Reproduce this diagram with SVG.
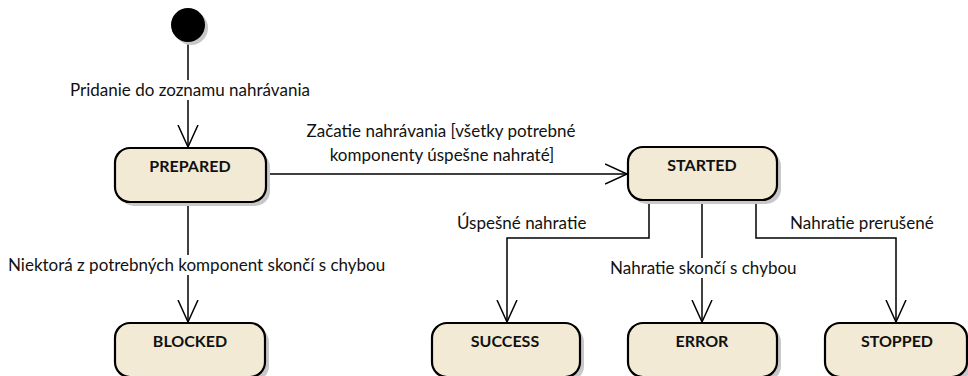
<svg xmlns="http://www.w3.org/2000/svg" width="968" height="376" viewBox="0 0 968 376">
<style>
.st rect.b{fill:#f3ead6;stroke:#000;stroke-width:2.2}
.st rect.sh{fill:#c8c8c8}
.st text{font-family:Lato,"Liberation Sans",sans-serif;font-weight:bold;font-size:16px;text-anchor:middle;fill:#111}
.lbl{font-family:Lato,"Liberation Sans",sans-serif;font-size:17px;fill:#111}
.bg{fill:#fff}
.c{fill:none;stroke:#000;stroke-width:1.5}
</style>
<defs>
<marker id="a" viewBox="0 0 24 24" refX="22" refY="12" markerWidth="24" markerHeight="24" markerUnits="userSpaceOnUse" orient="auto">
<path d="M0,2 L22,12 L0,22" fill="none" stroke="#000" stroke-width="1.5"/>
</marker>
</defs>
<rect width="968" height="376" fill="#fff"/>
<g id="connectors">
<line class="c" x1="188" y1="42" x2="188" y2="147" marker-end="url(#a)"/>
<line class="c" x1="266" y1="174" x2="627" y2="174" marker-end="url(#a)"/>
<line class="c" x1="188" y1="202" x2="188" y2="322" marker-end="url(#a)"/>
<polyline class="c" points="649,200 649,238 507,238 507,322" marker-end="url(#a)"/>
<line class="c" x1="702" y1="200" x2="702" y2="322" marker-end="url(#a)"/>
<polyline class="c" points="756,200 756,238 896,238 896,322" marker-end="url(#a)"/>
</g>
<g id="labels">
<rect class="bg" x="68" y="80" width="250" height="20"/>
<text class="lbl" x="70" y="96">Pridanie do zoznamu nahrávania</text>
<text class="lbl" x="441" y="137" text-anchor="middle">Začatie nahrávania [všetky potrebné</text>
<text class="lbl" x="442" y="161" text-anchor="middle">komponenty úspešne nahraté]</text>
<rect class="bg" x="6" y="255" width="386" height="20"/>
<text class="lbl" x="8" y="271">Niektorá z potrebných komponent skončí s chybou</text>
<text class="lbl" x="457" y="229">Úspešné nahratie</text>
<rect class="bg" x="608" y="258" width="202" height="20"/>
<text class="lbl" x="610" y="274">Nahratie skončí s chybou</text>
<text class="lbl" x="790" y="229">Nahratie prerušené</text>
</g>
<g id="initial">
<circle cx="191" cy="28" r="17" fill="#c8c8c8"/>
<circle cx="188" cy="25" r="17" fill="#000"/>
</g>
<g id="prepared" class="st">
<rect class="sh" x="119" y="152" width="151" height="54" rx="15"/>
<rect class="b" x="115" y="148" width="151" height="54" rx="15"/>
<text x="190" y="172">PREPARED</text>
</g>
<g id="started" class="st">
<rect class="sh" x="632" y="151" width="149" height="53" rx="15"/>
<rect class="b" x="628" y="147" width="149" height="53" rx="15"/>
<text x="702" y="171">STARTED</text>
</g>
<g id="blocked" class="st">
<rect class="sh" x="119" y="327" width="150" height="54" rx="15"/>
<rect class="b" x="115" y="323" width="150" height="54" rx="15"/>
<text x="190" y="347">BLOCKED</text>
</g>
<g id="success" class="st">
<rect class="sh" x="436" y="327" width="148" height="54" rx="15"/>
<rect class="b" x="432" y="323" width="148" height="54" rx="15"/>
<text x="505" y="347">SUCCESS</text>
</g>
<g id="error" class="st">
<rect class="sh" x="632" y="327" width="149" height="54" rx="15"/>
<rect class="b" x="628" y="323" width="149" height="54" rx="15"/>
<text x="702" y="347">ERROR</text>
</g>
<g id="stopped" class="st">
<rect class="sh" x="829" y="327" width="142" height="54" rx="15"/>
<rect class="b" x="825" y="323" width="142" height="54" rx="15"/>
<text x="897" y="347">STOPPED</text>
</g>
</svg>
